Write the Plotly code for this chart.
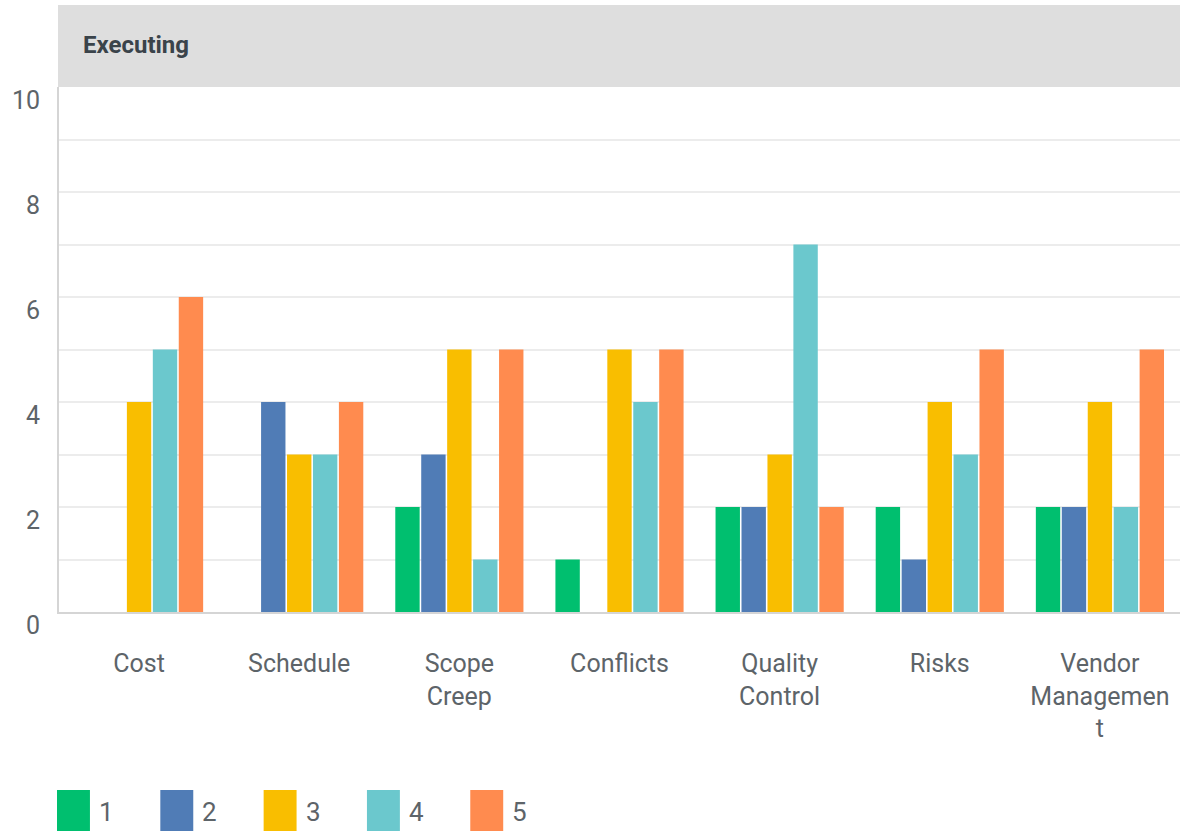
import plotly.graph_objects as go

categories = ['Cost', 'Schedule', 'Scope Creep', 'Conflicts', 'Quality Control', 'Risks', 'Vendor Management']
tick_labels = ['Cost', 'Schedule', 'Scope<br>Creep', 'Conflicts', 'Quality<br>Control', 'Risks', 'Vendor<br>Managemen<br>t']
series_names = ['1', '2', '3', '4', '5']
s1 = [0, 0, 2, 1, 2, 2, 2]
s2 = [0, 4, 3, 0, 2, 1, 2]
s3 = [4, 3, 5, 5, 3, 4, 4]
s4 = [5, 3, 1, 4, 7, 3, 2]
s5 = [6, 4, 5, 5, 2, 5, 5]
colors = ['#00bf6f', '#507cb6', '#f9be00', '#6bc8cd', '#ff8b4f']
y_ticks = list(range(0, 11))
y_text = [str(v) if v % 2 == 0 else '' for v in y_ticks]

W, H = 1204, 833
L, R, T, B = 57, 24, 87, 221
pw, ph = W - L - R, H - T - B
txt = '#5d6469'

fig = go.Figure()
for name, vals, c in zip(series_names, [s1, s2, s3, s4, s5], colors):
    fig.add_trace(go.Bar(x=categories, y=vals, name=name, marker=dict(color=c, line=dict(width=0)),
                         showlegend=False))

shapes = []
annotations = []

# grey header band
shapes.append(dict(type='rect', xref='paper', yref='paper', x0=-1 / pw, x1=1,
                   y0=1, y1=1 + 82 / ph, fillcolor='#dedede', line=dict(width=0), layer='below'))
annotations.append(dict(text='<b>Executing</b>', xref='paper', yref='paper',
                        x=(79 - L) / pw, y=1 + 42 / ph, xanchor='left', yanchor='middle',
                        showarrow=False, font=dict(size=24, color='#3a434a')))

# legend drawn below the plot
for i, (name, c) in enumerate(zip(series_names, colors)):
    px0 = 55 + i * 103.5
    shapes.append(dict(type='rect', xref='paper', yref='paper',
                       x0=(px0 - L) / pw, x1=(px0 + 33 - L) / pw,
                       y0=(T + ph - 831) / ph, y1=(T + ph - 790) / ph,
                       fillcolor=c, line=dict(width=0)))
    annotations.append(dict(text=name, xref='paper', yref='paper',
                            x=(px0 + 40 - L) / pw, y=(T + ph - 812) / ph,
                            xanchor='left', yanchor='middle', showarrow=False,
                            font=dict(size=26, color=txt)))

fig.update_layout(
    width=W, height=H,
    margin=dict(l=L, r=R, t=T, b=B),
    plot_bgcolor='white', paper_bgcolor='white',
    font=dict(family='Roboto', color=txt),
    barmode='group', bargap=0.19, bargroupgap=0.06,
    shapes=shapes, annotations=annotations,
    xaxis=dict(tickvals=categories, ticktext=tick_labels, showline=True, linecolor='#d5d5d5',
               linewidth=2, tickfont=dict(size=25, color=txt), ticklabelstandoff=28,
               showgrid=False),
    yaxis=dict(range=[0, 10], tickvals=y_ticks, ticktext=y_text, showline=True,
               linecolor='#d5d5d5', linewidth=2, gridcolor='#ececec', gridwidth=2,
               tickfont=dict(size=25, color=txt), ticklabelshift=13,
               ticklabelstandoff=12, zeroline=False),
)

fig.write_html('out.html', config={'displayModeBar': False},
               post_script="document.body.style.margin='0';")
